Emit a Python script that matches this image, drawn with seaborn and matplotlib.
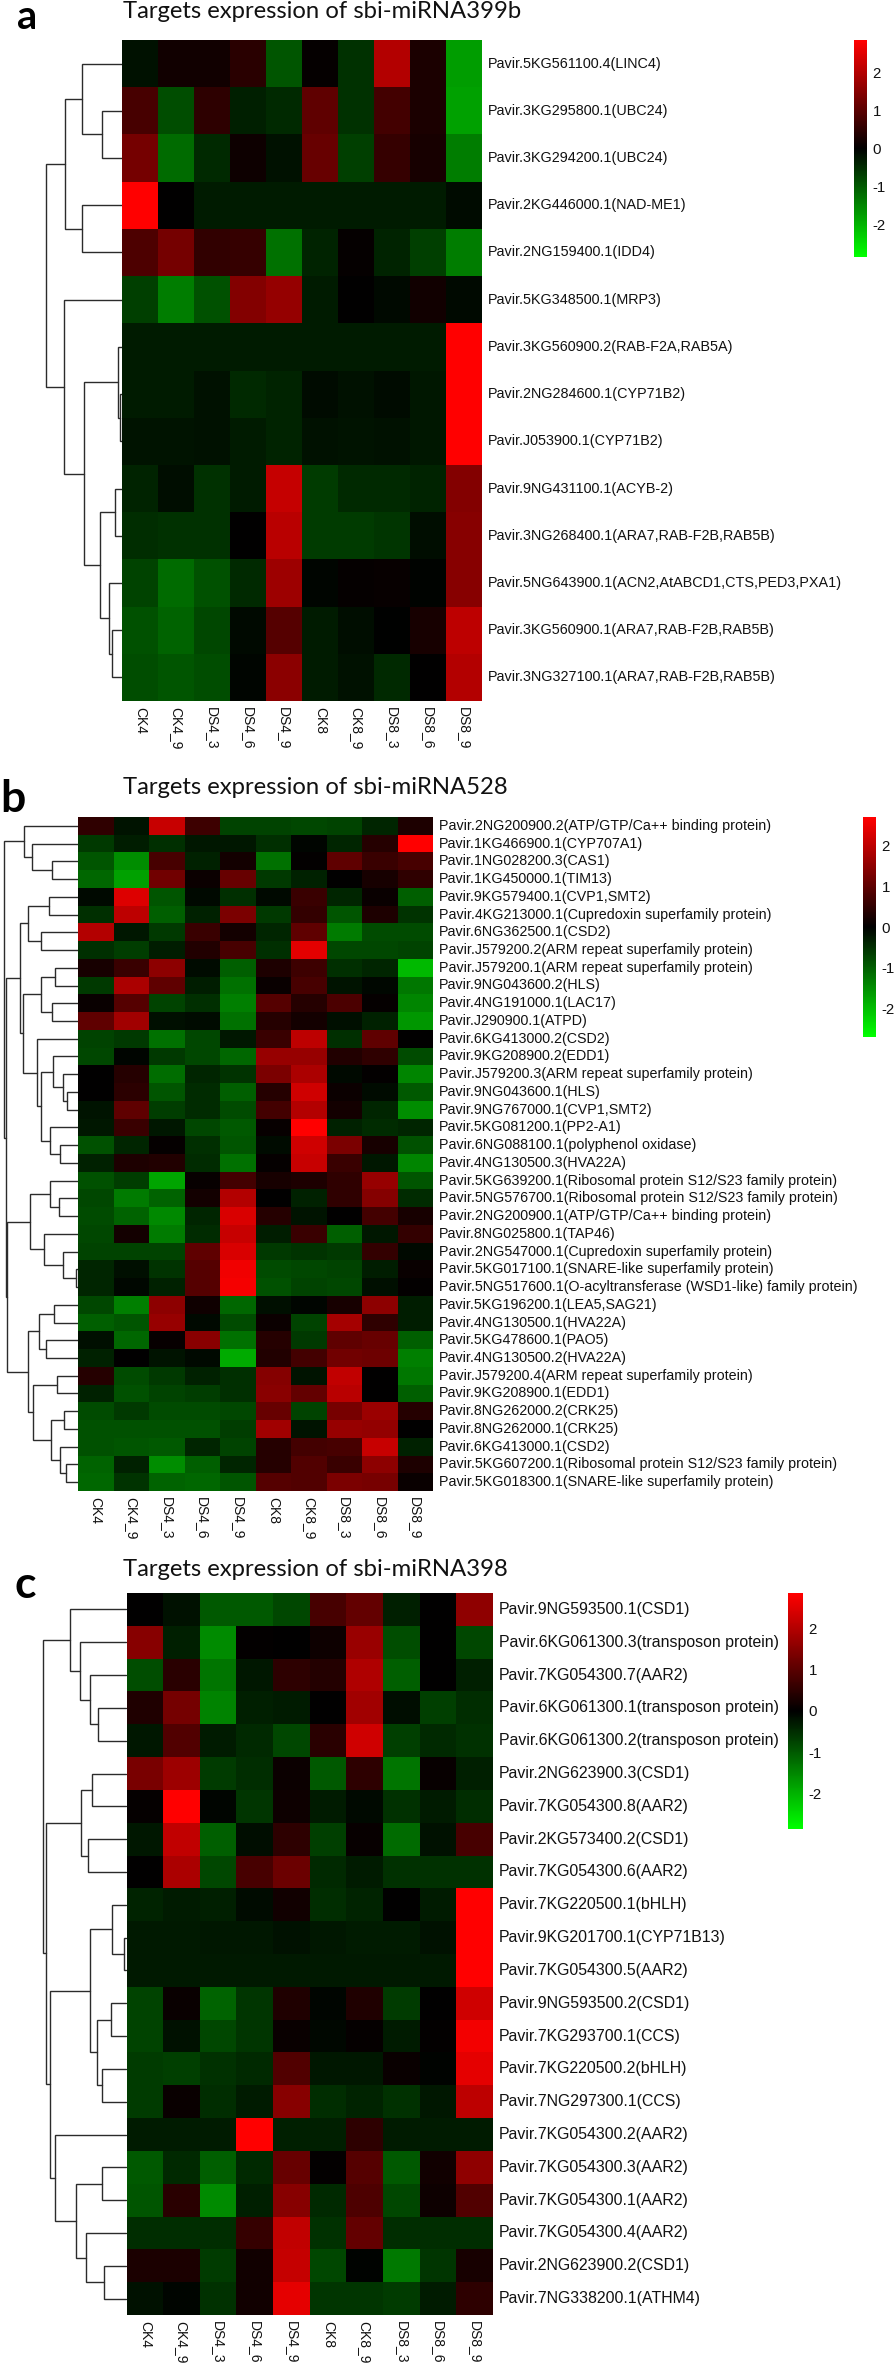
import pandas as pd
import matplotlib
matplotlib.use("Agg")
import matplotlib.pyplot as plt
from matplotlib.colors import LinearSegmentedColormap
import seaborn as sns

samples = ["CK4", "CK4_9", "DS4_3", "DS4_6", "DS4_9", "CK8", "CK8_9", "DS8_3", "DS8_6", "DS8_9"]

# panel a
genes_a = ["5KG561100.4(LINC4)", "3KG295800.1(UBC24)", "3KG294200.1(UBC24)", "2KG446000.1(NAD-ME1)",
           "2NG159400.1(IDD4)", "5KG348500.1(MRP3)", "3KG560900.2(RAB-F2A,RAB5A)", "2NG284600.1(CYP71B2)",
           "J053900.1(CYP71B2)", "9NG431100.1(ACYB-2)", "3NG268400.1(ARA7,RAB-F2B,RAB5B)",
           "5NG643900.1(ACN2,AtABCD1,CTS,PED3,PXA1)", "3KG560900.1(ARA7,RAB-F2B,RAB5B)",
           "3NG327100.1(ARA7,RAB-F2B,RAB5B)"]
values_a = [
    [-0.2, 0.2, 0.2, 0.45, -0.95, 0.05, -0.55, 2.0, 0.3, -1.75],
    [0.8, -0.85, 0.5, -0.35, -0.45, 1.05, -0.55, 0.75, 0.3, -1.8],
    [1.3, -1.2, -0.45, 0.15, -0.2, 1.15, -0.7, 0.6, 0.25, -1.4],
    [2.85, 0.0, -0.3, -0.3, -0.3, -0.3, -0.3, -0.3, -0.3, -0.12],
    [0.85, 1.3, 0.55, 0.6, -1.25, -0.4, 0.05, -0.4, -0.7, -1.4],
    [-0.7, -1.4, -0.9, 1.45, 1.65, -0.3, 0.0, -0.1, 0.2, -0.1],
    [-0.3, -0.3, -0.3, -0.3, -0.3, -0.3, -0.3, -0.3, -0.3, 2.85],
    [-0.3, -0.3, -0.2, -0.45, -0.4, -0.12, -0.2, -0.12, -0.25, 2.85],
    [-0.22, -0.22, -0.18, -0.3, -0.38, -0.2, -0.22, -0.2, -0.25, 2.85],
    [-0.4, -0.15, -0.55, -0.3, 2.2, -0.65, -0.45, -0.45, -0.4, 1.45],
    [-0.5, -0.55, -0.55, 0.0, 2.05, -0.65, -0.65, -0.6, -0.15, 1.5],
    [-0.75, -1.2, -0.9, -0.45, 1.75, -0.05, 0.05, 0.08, -0.03, 1.5],
    [-0.9, -1.1, -0.8, -0.1, 0.95, -0.3, -0.15, -0.02, 0.25, 2.1],
    [-0.85, -0.95, -0.85, -0.05, 1.55, -0.3, -0.2, -0.45, 0.0, 2.0],
]
# trees are (left, right, height), leaves are row numbers
tree_a = (((0, (1, 2, 20.5), 40), (3, 4, 40), 57),
          (5, ((6, (7, 8, 2), 4), ((9, 10, 7), (11, (12, 13, 10), 13), 22), 37.6), 58), 76)

# panel b
genes_b = ["2NG200900.2(ATP/GTP/Ca++ binding protein)", "1KG466900.1(CYP707A1)", "1NG028200.3(CAS1)",
           "1KG450000.1(TIM13)", "9KG579400.1(CVP1,SMT2)", "4KG213000.1(Cupredoxin superfamily protein)",
           "6NG362500.1(CSD2)", "J579200.2(ARM repeat superfamily protein)",
           "J579200.1(ARM repeat superfamily protein)", "9NG043600.2(HLS)", "4NG191000.1(LAC17)",
           "J290900.1(ATPD)", "6KG413000.2(CSD2)", "9KG208900.2(EDD1)",
           "J579200.3(ARM repeat superfamily protein)", "9NG043600.1(HLS)", "9NG767000.1(CVP1,SMT2)",
           "5KG081200.1(PP2-A1)", "6NG088100.1(polyphenol oxidase)", "4NG130500.3(HVA22A)",
           "5KG639200.1(Ribosomal protein S12/S23 family protein)",
           "5NG576700.1(Ribosomal protein S12/S23 family protein)",
           "2NG200900.1(ATP/GTP/Ca++ binding protein)", "8NG025800.1(TAP46)",
           "2NG547000.1(Cupredoxin superfamily protein)", "5KG017100.1(SNARE-like superfamily protein)",
           "5NG517600.1(O-acyltransferase (WSD1-like) family protein)", "5KG196200.1(LEA5,SAG21)",
           "4NG130500.1(HVA22A)", "5KG478600.1(PAO5)", "4NG130500.2(HVA22A)",
           "J579200.4(ARM repeat superfamily protein)", "9KG208900.1(EDD1)", "8NG262000.2(CRK25)",
           "8NG262000.1(CRK25)", "6KG413000.1(CSD2)",
           "5KG607200.1(Ribosomal protein S12/S23 family protein)",
           "5KG018300.1(SNARE-like superfamily protein)"]
values_b = [
    [0.5, -0.2, 2.1, 0.65, -0.7, -0.7, -0.75, -0.7, -0.4, 0.3],
    [-0.6, -0.3, -0.5, -0.25, -0.25, -0.5, -0.05, -0.4, 0.4, 2.7],
    [-0.9, -1.5, 0.75, -0.35, 0.2, -1.2, 0.03, 1.0, 0.6, 0.75],
    [-1.1, -1.7, 1.2, 0.12, 1.1, -0.6, -0.35, 0.0, 0.25, 0.5],
    [-0.1, 2.35, -0.9, -0.1, -0.5, -0.1, 0.6, -0.4, 0.1, -1.0],
    [-0.5, 2.0, -1.0, -0.35, 1.3, -0.6, 0.55, -0.9, 0.3, -0.55],
    [1.9, -0.25, -0.6, 0.6, 0.2, -0.4, 1.0, -1.3, -0.8, -0.8],
    [-0.5, -0.65, -0.3, 0.35, 0.75, -0.5, 2.4, -0.75, -0.75, -0.7],
    [0.25, 0.6, 1.5, -0.12, -1.0, 0.3, 0.65, -0.5, -0.4, -1.95],
    [-0.6, 1.8, 1.0, -0.3, -1.2, 0.1, 0.75, -0.2, -0.08, -1.25],
    [0.1, 0.9, -0.7, -0.5, -1.35, 0.9, 0.4, 0.8, 0.05, -1.4],
    [1.0, 1.7, -0.15, -0.12, -1.2, 0.4, 0.2, -0.15, -0.35, -1.6],
    [-0.7, -0.6, -1.2, -0.75, -0.25, 0.6, 2.0, -0.5, 1.0, 0.0],
    [-0.75, -0.05, -0.6, -0.75, -1.1, 1.6, 1.6, 0.35, 0.5, -0.8],
    [0.02, 0.4, -1.15, -0.4, -0.55, 1.3, 1.8, -0.1, 0.03, -1.4],
    [0.0, 0.45, -0.9, -0.45, -1.0, 0.4, 2.2, 0.12, -0.12, -0.95],
    [-0.2, 1.0, -0.65, -0.45, -0.8, 0.7, 1.9, 0.2, -0.4, -1.5],
    [-0.25, 0.6, -0.25, -0.75, -0.95, 0.07, 2.7, -0.35, -0.45, -0.4],
    [-0.85, -0.4, 0.05, -0.5, -0.9, -0.12, 2.2, 1.3, 0.25, -0.85],
    [-0.35, 0.3, 0.35, -0.45, -1.2, 0.05, 2.1, 0.6, -0.25, -1.4],
    [-0.85, -0.65, -1.75, 0.08, 0.7, 0.25, 0.3, 0.5, 1.6, -0.9],
    [-0.75, -1.3, -1.05, 0.2, 1.9, 0.0, -0.35, 0.5, 1.4, -0.45],
    [-0.8, -1.05, -1.45, -0.4, 2.3, 0.4, -0.2, 0.02, 0.7, 0.25],
    [-0.75, 0.2, -1.3, -0.45, 2.1, -0.3, 0.6, -1.0, -0.25, 0.55],
    [-0.7, -0.7, -0.7, 1.0, 2.3, -0.6, -0.55, -0.6, 0.55, -0.1],
    [-0.4, -0.15, -0.55, 0.9, 2.55, -0.8, -0.75, -0.7, -0.3, 0.1],
    [-0.4, -0.08, -0.35, 0.9, 2.6, -0.85, -0.7, -0.75, -0.15, 0.03],
    [-0.75, -1.35, 1.5, 0.15, -1.1, -0.15, -0.05, 0.25, 1.5, -0.3],
    [-1.0, -0.9, 1.6, -0.1, -0.8, 0.12, -0.7, 1.75, 0.5, -0.3],
    [-0.15, -1.1, 0.08, 1.45, -1.2, 0.4, -0.6, 1.0, 1.1, -1.0],
    [-0.35, 0.0, -0.2, -0.1, -1.8, 0.35, 0.7, 1.2, 1.15, -1.35],
    [0.4, -0.8, -0.6, -0.35, -0.5, 1.4, -0.2, 2.05, 0.0, -1.25],
    [-0.35, -0.85, -0.7, -0.65, -0.5, 1.45, 1.05, 1.95, 0.0, -1.0],
    [-0.8, -0.6, -0.8, -0.8, -0.75, 1.1, -0.7, 1.25, 1.65, 0.4],
    [-0.85, -0.85, -0.85, -0.85, -0.65, 1.7, -0.2, 1.6, 1.55, 0.0],
    [-0.85, -0.9, -0.95, -0.4, -0.7, 0.4, 0.7, 0.75, 2.1, -0.35],
    [-1.05, -0.35, -1.5, -1.0, -0.4, 0.4, 0.85, 0.6, 1.5, 0.3],
    [-1.1, -0.55, -1.05, -1.1, -0.9, 0.9, 0.85, 1.3, 1.25, 0.1],
]
tree_b_top = (0, (1, (2, 3, 25.6), 46), 53.6)
tree_b_mid = (((4, 5, 29), (6, 7, 37), 49.6),
              (((8, 9, 22.8), (10, 11, 25.6), 37),
               (12, ((13, (14, (15, 16, 10.8), 15.4), 25), (17, (18, 19, 18), 28), 37), 41), 55.3), 57.6)
tree_b_low = (((20, (21, 22, 19.4), 28), (23, (24, (25, 26, 2.3), 15.4), 33.6), 48.5),
              (((27, 28, 24), (29, 30, 32.5), 39.3),
               ((31, 32, 21), ((33, 34, 13.7), (35, (36, 37, 12.5), 18), 26.8), 45), 49.6), 70.7)
tree_b = (tree_b_top, (tree_b_mid, tree_b_low, 72.4), 74)

# panel c
genes_c = ["9NG593500.1(CSD1)", "6KG061300.3(transposon protein)", "7KG054300.7(AAR2)",
           "6KG061300.1(transposon protein)", "6KG061300.2(transposon protein)", "2NG623900.3(CSD1)",
           "7KG054300.8(AAR2)", "2KG573400.2(CSD1)", "7KG054300.6(AAR2)", "7KG220500.1(bHLH)",
           "9KG201700.1(CYP71B13)", "7KG054300.5(AAR2)", "9NG593500.2(CSD1)", "7KG293700.1(CCS)",
           "7KG220500.2(bHLH)", "7NG297300.1(CCS)", "7KG054300.2(AAR2)", "7KG054300.3(AAR2)",
           "7KG054300.1(AAR2)", "7KG054300.4(AAR2)", "2NG623900.2(CSD1)", "7NG338200.1(ATHM4)"]
values_c = [
    [0.0, -0.2, -1.0, -1.0, -0.8, 0.8, 1.1, -0.35, 0.0, 1.6],
    [1.5, -0.35, -1.55, 0.03, 0.02, 0.15, 1.7, -0.85, 0.0, -0.8],
    [-0.85, 0.45, -1.3, -0.25, 0.5, 0.4, 1.95, -1.05, 0.0, -0.35],
    [0.35, 1.3, -1.45, -0.35, -0.3, 0.0, 1.8, -0.15, -0.7, -0.5],
    [-0.25, 0.9, -0.3, -0.45, -0.8, 0.45, 2.3, -0.7, -0.45, -0.55],
    [1.35, 1.75, -0.65, -0.5, 0.12, -1.0, 0.5, -1.3, 0.07, -0.35],
    [0.05, 2.85, -0.05, -0.6, 0.15, -0.3, -0.1, -0.55, -0.3, -0.5],
    [-0.25, 2.15, -1.05, -0.15, 0.5, -0.7, 0.07, -1.2, -0.2, 0.8],
    [0.0, 1.9, -0.8, 0.8, 1.2, -0.45, -0.3, -0.55, -0.55, -0.55],
    [-0.4, -0.3, -0.35, -0.12, 0.18, -0.5, -0.4, 0.0, -0.3, 2.85],
    [-0.27, -0.27, -0.25, -0.25, -0.2, -0.25, -0.3, -0.3, -0.2, 2.85],
    [-0.27, -0.27, -0.27, -0.27, -0.27, -0.27, -0.27, -0.27, -0.27, 2.85],
    [-0.75, 0.1, -1.1, -0.6, 0.35, -0.05, 0.35, -0.65, 0.0, 2.3],
    [-0.75, -0.2, -0.8, -0.6, 0.1, -0.08, 0.05, -0.3, 0.03, 2.7],
    [-0.65, -0.7, -0.55, -0.45, 0.9, -0.25, -0.25, 0.1, -0.03, 2.55],
    [-0.65, 0.1, -0.5, -0.3, 1.5, -0.5, -0.4, -0.55, -0.25, 2.1],
    [-0.3, -0.3, -0.3, 2.85, -0.35, -0.35, 0.5, -0.3, -0.3, -0.3],
    [-1.0, -0.45, -1.05, -0.45, 1.15, 0.03, 0.95, -1.0, 0.2, 1.6],
    [-0.95, 0.45, -1.55, -0.35, 1.5, -0.45, 0.85, -0.8, 0.15, 0.9],
    [-0.5, -0.5, -0.5, 0.6, 2.15, -0.55, 1.1, -0.5, -0.5, -0.5],
    [0.3, 0.3, -0.65, 0.2, 2.2, -0.8, -0.03, -1.35, -0.6, 0.25],
    [-0.2, -0.05, -0.55, 0.2, 2.55, -0.6, -0.6, -0.65, -0.3, 0.5],
]
tree_c = ((0, (1, (2, (3, 4, 28.5), 37), 46.8), 56.4),
          (((5, 6, 34.2), (7, 8, 38.2), 45.6),
           (((9, (10, 11, 2.3), 14.3), ((12, 13, 15.4), (14, 15, 24.5), 29.6), 36.5),
            (16, ((17, 18, 24.5), (19, (20, 21, 22.2), 40.5), 50.7), 71.3), 77), 81), 83.2)

W, H = 894, 2368
cmap = LinearSegmentedColormap.from_list("gbr", ["#00ff00", "#000000", "#ff0000"])

sns.set_theme(style="white")
plt.rcParams["font.family"] = ["Liberation Sans", "DejaVu Sans"]
plt.rcParams["axes.unicode_minus"] = False
fig = plt.figure(figsize=(W / 100, H / 100), dpi=100)


def px_axes(left, top, right, bottom):
    return fig.add_axes([left / W, 1 - bottom / H, (right - left) / W, (bottom - top) / H])


def draw_tree(ax, node):
    # returns (height, y) of the node
    if not isinstance(node, tuple):
        return 0, node + 0.5
    h1, y1 = draw_tree(ax, node[0])
    h2, y2 = draw_tree(ax, node[1])
    h = node[2]
    ax.plot([h1, h, h, h2], [y1, y1, y2, y2], color="#2b2b2b", lw=1.0, solid_joinstyle="miter")
    return h, (y1 + y2) / 2


def panel(letter, letter_xy, letter_size, title, title_y, genes, values, tree, box, cbar_box, vlim, label_size):
    left, top, right, bottom = box
    df = pd.DataFrame(values, columns=samples, index=["Pavir." + g for g in genes])

    ax = px_axes(left, top, right, bottom)
    cax = px_axes(*cbar_box)
    sns.heatmap(df, ax=ax, cbar_ax=cax, cmap=cmap, vmin=-vlim, vmax=vlim,
                xticklabels=True, yticklabels=True, cbar_kws={"ticks": [-2, -1, 0, 1, 2]})
    ax.yaxis.tick_right()
    ax.tick_params(axis="both", length=0, pad=4)
    plt.setp(ax.get_yticklabels(), rotation=0, fontsize=label_size, color="#111111", va="center")
    plt.setp(ax.get_xticklabels(), rotation=270, fontsize=10, color="#111111", ha="center", va="top")

    cax.tick_params(length=0, pad=4, labelsize=10.8, labelcolor="#111111")
    ax.collections[0].colorbar.outline.set_visible(False)

    dax = px_axes(0, top, left, bottom)
    draw_tree(dax, tree)
    dax.set_xlim(left, 0)
    dax.set_ylim(len(genes), 0)
    dax.axis("off")

    fig.text(123 / W, 1 - title_y / H, title, fontsize=17.2, family="Lato", va="center", color="#111111")
    fig.text(letter_xy[0] / W, 1 - letter_xy[1] / H, letter, fontsize=letter_size, family="Lato",
             fontweight="bold", va="baseline", color="black")


panel("a", (17, 29), 28.5, "Targets expression of sbi-miRNA399b", 12, genes_a, values_a, tree_a,
      (122, 40, 482, 701), (853.5, 40, 867, 257), 2.85, 10.4)
panel("b", (0, 812), 32, "Targets expression of sbi-miRNA528", 787, genes_b, values_b, tree_b,
      (78, 817, 433, 1491), (862.5, 817, 876, 1037), 2.71, 10.3)
panel("c", (14, 1598), 32, "Targets expression of sbi-miRNA398", 1569, genes_c, values_c, tree_c,
      (126.5, 1593, 493, 2315), (788, 1593, 803, 1829), 2.85, 11.4)

fig.savefig("out.png", dpi=100, facecolor="white")
